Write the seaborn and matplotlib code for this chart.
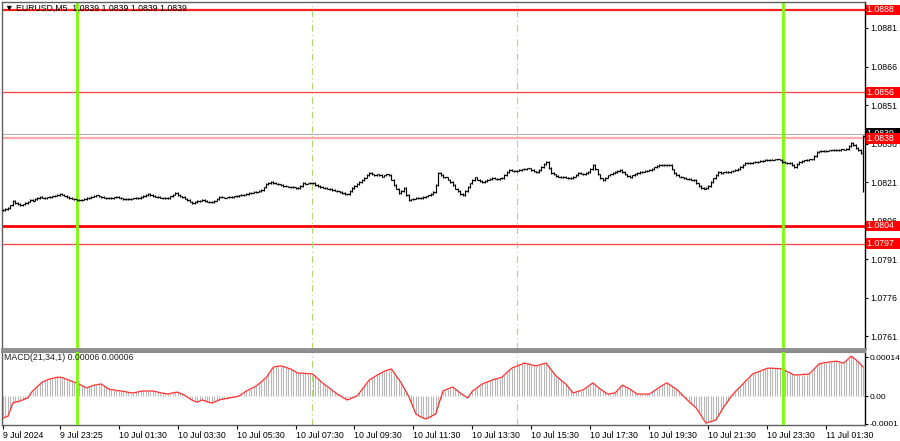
import numpy as np
import pandas as pd
import matplotlib
matplotlib.use("Agg")
import matplotlib.pyplot as plt
import matplotlib.transforms as mtransforms
import seaborn as sns

# ---------------- data ----------------
title_text = "\u25bc EURUSD,M5  1.0839 1.0839 1.0839 1.0839"
macd_text = "MACD(21,34,1) 0.00006 0.00006"
price_base = 1.08
# close prices in points (1e-5) above price_base, one per M5 bar
close_pts = [
    101,105,109,120,136,130,126,122,124,130,
    134,140,138,145,148,152,150,148,151,152,
    155,158,160,163,162,158,152,148,146,143,
    141,140,142,145,148,150,154,157,159,155,
    152,150,148,147,149,151,152,150,147,145,
    144,145,146,147,148,148,152,156,160,163,
    160,157,154,152,150,149,148,148,155,162,
    167,160,155,152,146,140,134,128,132,136,
    138,140,136,134,133,132,138,145,152,151,
    150,151,152,153,155,157,159,160,162,164,
    167,169,171,173,176,179,190,202,206,210,
    207,204,201,198,196,194,193,191,190,188,
    187,196,206,204,205,207,206,200,195,191,
    189,187,185,183,180,177,174,171,168,165,
    163,175,187,195,203,210,218,228,238,245,
    240,236,240,237,232,236,240,237,220,198,
    185,167,175,187,160,140,143,146,148,150,
    148,152,155,159,165,171,200,245,238,229,
    229,220,210,198,185,175,165,159,175,191,
    205,218,229,220,214,210,215,220,223,226,
    224,222,225,226,238,250,257,255,252,255,
    257,260,262,264,264,258,252,249,258,270,
    280,288,265,245,240,235,232,229,231,228,
    227,226,232,238,245,243,240,246,249,262,
    276,260,240,225,218,228,236,240,245,250,
    254,257,250,240,233,229,236,242,246,249,
    251,254,255,257,262,268,272,276,278,275,
    277,276,260,245,238,232,229,226,224,222,
    220,218,205,195,187,185,187,195,210,225,
    238,249,246,248,250,249,252,255,257,262,
    270,278,284,286,285,287,288,290,292,294,
    296,297,298,298,299,299,298,288,286,285,
    284,276,268,280,288,292,295,297,299,299,
    312,327,330,331,332,333,334,334,335,335,
    336,338,337,340,350,362,355,342,335,323,
    390,
]
last_bar_low_pts = 170
# MACD main value in units of 1e-5, one per bar
macd_vals = [
    -7.9,-7.6,-7.2,-5.0,-2.5,-2.2,-2.0,-1.8,-1.4,-1.0,
    -0.7,0.5,1.8,2.6,3.4,4.2,5.0,5.4,5.8,6.1,
    6.3,6.5,6.7,6.8,6.6,6.3,6.0,5.7,5.3,5.0,
    4.6,4.3,3.8,3.3,2.9,3.2,3.6,3.9,4.0,4.2,
    4.3,3.7,3.1,2.5,2.3,2.2,2.0,1.9,1.8,1.7,
    1.5,1.3,1.2,1.1,1.3,1.5,1.7,1.8,1.8,1.8,
    1.8,1.8,1.6,1.4,1.2,1.0,0.9,0.7,0.9,1.1,
    1.3,1.4,1.0,0.7,0.2,-0.4,-1.0,-1.5,-1.9,-2.2,
    -1.8,-1.4,-1.7,-2.0,-2.3,-2.5,-2.1,-1.8,-1.4,-1.2,
    -1.0,-0.9,-0.7,-0.5,-0.4,-0.2,0.0,0.6,1.2,1.8,
    2.2,2.7,3.1,3.6,4.3,5.0,5.8,6.5,7.8,9.1,
    10.4,10.6,10.7,10.8,10.6,10.3,10.0,9.7,9.2,8.7,
    8.2,8.2,8.2,8.1,8.0,8.0,7.9,7.1,6.3,5.5,
    4.7,4.0,3.4,2.7,2.0,1.4,0.7,0.2,-0.4,-0.9,
    -1.4,-1.1,-0.7,-0.3,0.0,1.1,2.3,3.4,4.6,5.7,
    6.3,6.8,7.4,7.9,8.3,8.8,9.2,9.5,9.7,8.5,
    7.2,6.0,4.7,3.1,1.6,0.0,-2.2,-4.3,-6.5,-7.0,
    -7.5,-7.9,-8.2,-7.8,-7.4,-6.9,-6.5,-3.8,-1.0,1.8,
    2.2,2.6,2.9,3.2,2.5,1.8,1.1,0.5,-0.1,-0.7,
    0.5,1.8,2.4,3.0,3.7,4.3,4.7,5.0,5.4,5.7,
    6.0,6.2,6.5,6.8,7.6,8.4,9.2,10.0,10.4,10.7,
    11.1,11.4,11.8,11.6,11.4,11.2,11.0,10.8,11.1,11.3,
    11.6,11.8,10.6,9.5,8.3,7.2,6.5,5.7,5.0,4.3,
    3.2,2.1,1.1,1.4,1.7,1.9,2.2,2.8,3.4,4.1,
    4.7,4.0,3.2,2.5,1.9,1.3,0.7,0.8,1.0,1.1,
    2.0,3.0,3.9,3.4,3.0,2.5,1.9,1.3,0.7,0.7,
    0.7,0.7,0.7,0.7,1.3,1.9,2.5,3.1,3.6,4.2,
    4.7,4.2,3.6,3.0,2.5,1.6,0.7,-0.2,-1.1,-1.9,
    -2.7,-3.5,-4.3,-5.6,-7.0,-8.4,-9.7,-9.4,-9.2,-8.9,
    -8.6,-7.2,-5.7,-4.3,-3.0,-1.8,-0.5,0.7,1.6,2.5,
    3.4,4.3,5.2,6.1,7.0,7.9,8.3,8.6,8.9,9.3,
    9.6,10.0,10.0,10.0,9.9,9.9,9.8,9.7,9.3,8.8,
    8.4,7.9,7.5,7.6,7.6,7.7,7.8,7.8,7.9,8.8,
    9.7,10.6,11.5,11.7,11.9,12.0,12.2,12.3,12.4,12.5,
    12.3,12.0,11.8,12.6,13.4,14.3,13.7,13.0,12.2,11.3,
    10.4,
]
price_ticks = [1.0881, 1.0866, 1.0851, 1.0836, 1.0821, 1.0806, 1.0791, 1.0776, 1.0761]
level_prices = [1.0888, 1.0856, 1.0838, 1.0804, 1.0797]
level_widths = [1.6, 0.9, 1.6, 2.0, 0.9]
level_colors = ["#ff2020", "#ff4040", "#ffaaaa", "#ff0000", "#ff4040"]
current_price = 1.08398
macd_ticks = [0.00014, 0.0, -0.0001]
macd_tick_labels = ["0.00014", "0.00", "-0.0001"]
time_label_bars = [0, 23, 47, 71, 95, 119, 143, 167, 191, 215, 239, 263, 287, 311, 335]
time_labels = ["9 Jul 2024", "9 Jul 23:25", "10 Jul 01:30", "10 Jul 03:30", "10 Jul 05:30",
               "10 Jul 07:30", "10 Jul 09:30", "10 Jul 11:30", "10 Jul 13:30", "10 Jul 15:30",
               "10 Jul 17:30", "10 Jul 19:30", "10 Jul 21:30", "10 Jul 23:30", "11 Jul 01:30"]
day_sep_bars = [30.1, 317.3]
period_sep_bars = [125.7, 209.1]

# ---------------- figure ----------------
sns.set_theme(style="white")
plt.rcParams['font.family'] = ['Liberation Sans', 'DejaVu Sans']
W, H = 900, 441
fig = plt.figure(figsize=(W / 100, H / 100), dpi=100)
fig.patch.set_facecolor("white")


def rect(x0, y0, x1, y1):
    return [x0 / W, 1 - y1 / H, (x1 - x0) / W, (y1 - y0) / H]


ax = fig.add_axes(rect(2, 2, 865, 349))
axm = fig.add_axes(rect(2, 352, 865, 425))

n = len(close_pts)
idx = np.arange(n)
close = price_base + np.array(close_pts) / 1e5
opens = np.r_[close[0], close[:-1]]
wick = 3 / 1e5  # drawing extension of each bar beyond its body
hi = np.maximum(opens, close) + wick
lo = np.minimum(opens, close) - wick
lo[-1] = price_base + last_bar_low_pts / 1e5

df = pd.DataFrame({"bar": idx, "open": opens, "close": close, "high": hi, "low": lo,
                   "macd": np.array(macd_vals) / 1e5})

xlim = (-0.41, 350.7)
fs = 6.3
fs_small = 6.0

# price panel
for p, lw, c in zip(level_prices, level_widths, level_colors):
    ax.axhline(p, color=c, lw=lw, zorder=1)
ax.axhline(current_price, color="#b0b0b0", lw=0.8, zorder=1)
for b in day_sep_bars:
    ax.axvline(b, color="#7cfc00", lw=2, zorder=2)
    axm.axvline(b, color="#7cfc00", lw=2, zorder=4)
for b in period_sep_bars:
    ax.axvline(b, color="#a8dc70", lw=0.8, ls=(0, (6, 3, 1, 3)), zorder=1)
    axm.axvline(b, color="#a8dc70", lw=0.8, ls=(0, (6, 3, 1, 3)), zorder=1)

ax.vlines(df["bar"], df["low"], df["high"], color="black", lw=0.85, zorder=3)
ax.hlines(df["open"], df["bar"] - 0.6, df["bar"], color="black", lw=0.85, zorder=3)
ax.hlines(df["close"], df["bar"], df["bar"] + 0.6, color="black", lw=0.85, zorder=3)

ax.set_xlim(*xlim)
ax.set_ylim(1.07561, 1.08911)
ax.yaxis.tick_right()
ax.set_yticks(price_ticks)
ax.set_yticklabels([f"{t:.4f}" for t in price_ticks])
ax.tick_params(axis="y", right=True, length=2.5, width=0.8, pad=1.2, labelsize=fs, colors="black")
ax.set_xticks([])
for s in ["left", "top"]:
    ax.spines[s].set_color("#606060")
    ax.spines[s].set_linewidth(1)
ax.spines["right"].set_color("black")
ax.spines["right"].set_linewidth(1)
ax.spines["bottom"].set_color("#8a8a8a")
ax.spines["bottom"].set_linewidth(2.0)

trans = mtransforms.blended_transform_factory(ax.transAxes, ax.transData)
ax.text(1.0025, current_price, "1.0839  ", transform=trans, color="white", fontsize=fs,
        va="center", ha="left", zorder=5, clip_on=False,
        bbox=dict(facecolor="black", edgecolor="none", pad=0.6))
for p in level_prices:
    ax.text(1.0025, p, f"{p:.4f}  ", transform=trans, color="white", fontsize=fs,
            va="center", ha="left", zorder=6, clip_on=False,
            bbox=dict(facecolor="#ff0000", edgecolor="none", pad=0.6))

# MACD panel
axm.vlines(df["bar"], 0, df["macd"], color="#b8b8b8", lw=0.8, zorder=2)
sns.lineplot(data=df, x="bar", y="macd", color="#ff3030", lw=0.9, ax=axm, zorder=3)
axm.set_xlim(*xlim)
axm.set_ylim(-0.000104, 0.000158)
axm.set_xlabel("")
axm.set_ylabel("")
axm.yaxis.tick_right()
axm.set_yticks(macd_ticks)
axm.set_yticklabels(macd_tick_labels)
axm.tick_params(axis="y", right=True, length=2.5, width=0.8, pad=1.0, labelsize=fs_small, colors="black")
axm.set_xticks(time_label_bars)
axm.set_xticklabels(time_labels)
axm.tick_params(axis="x", bottom=True, length=3, width=0.8, pad=1.5, labelsize=fs, colors="black")
for lbl in axm.get_xticklabels():
    lbl.set_horizontalalignment("left")
for s in ["left", "bottom"]:
    axm.spines[s].set_color("#606060")
    axm.spines[s].set_linewidth(1)
axm.spines["top"].set_color("#8a8a8a")
axm.spines["top"].set_linewidth(1.5)
axm.spines["right"].set_color("black")
axm.spines["right"].set_linewidth(1)

fig.text(5 / W, 1 - 8 / H, title_text, fontsize=fs, va="center", ha="left", color="black")
fig.text(4 / W, 1 - 358 / H, macd_text, fontsize=fs, va="center", ha="left", color="#202020")

fig.savefig("out.png", dpi=100, facecolor="white")
